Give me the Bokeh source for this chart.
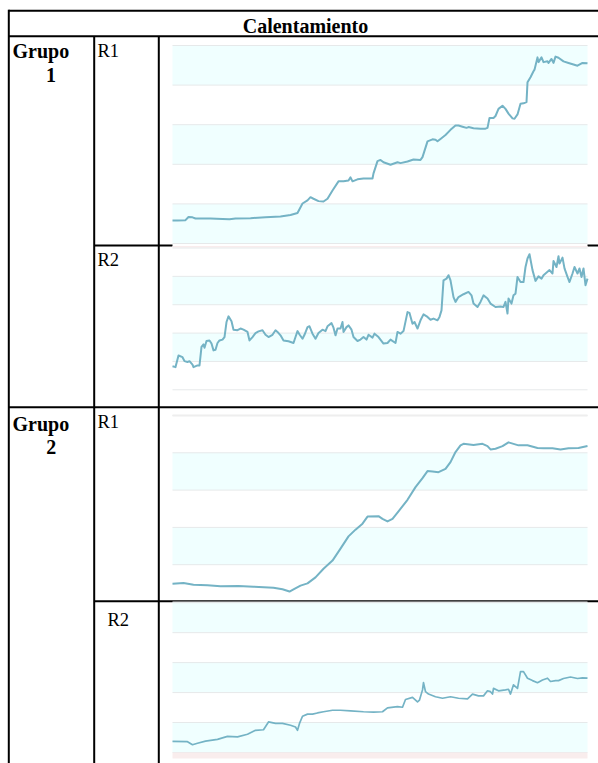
from bokeh.plotting import figure
from bokeh.models import Range1d
from bokeh.core.properties import value
from bokeh.embed import file_html
from bokeh.resources import INLINE

# ---------------- data ----------------
HEADER = "Calentamiento"
GROUP_WORDS = ["Grupo", "Grupo"]
GROUP_NUMS = ["1", "2"]
ROW_LABELS = ["R1", "R2", "R1", "R2"]
BAND_TICKS = [0, 10, 20, 30, 40, 50]
T_MAX = 415

g1r1_t = [0, 5, 13, 16, 20, 23, 38, 50, 57, 63, 78, 93, 108, 118, 125, 130, 135, 138, 141, 146,
          151, 155, 160, 166, 171, 176, 178, 180, 185, 191, 200, 201, 205, 208, 211, 218, 225, 228, 235, 241,
          248, 250, 255, 260, 263, 265, 268, 273, 278, 283, 286, 290, 294, 296, 301, 308, 313, 315, 317, 321,
          323, 326, 330, 333, 336, 340, 342, 345, 348, 351, 354, 355, 358, 361, 362, 365, 366, 369, 371, 375,
          376, 379, 381, 383, 386, 391, 396, 401, 405, 410, 415]
g1r1_v = [5.8, 5.8, 5.9, 6.7, 6.6, 6.3, 6.3, 6.2, 6.1, 6.3, 6.4, 6.6, 6.8, 7.2, 7.7, 10.1, 10.9, 11.7, 11.3, 10.7,
          10.6, 11.3, 13.4, 15.7, 15.7, 15.9, 16.7, 15.7, 16.2, 16.4, 16.4, 17.7, 20.8, 21.1, 20.5, 19.9, 20.5, 20.3, 20.7, 21.2,
          21.1, 21.8, 25.8, 26.3, 26.2, 25.8, 26.4, 27.4, 28.7, 29.8, 29.8, 29.5, 29.2, 29.4, 29.1, 29.0, 29.0, 29.2, 31.7, 31.7,
          32.2, 34.0, 34.8, 34.0, 32.8, 31.6, 31.5, 32.6, 35.3, 35.4, 35.7, 40.7, 42.0, 43.5, 43.9, 47.0, 45.8, 47.0, 45.8, 46.0,
          45.6, 46.6, 45.6, 47.2, 46.9, 46.0, 45.6, 45.2, 44.9, 45.6, 45.5]

g1r2_t = [0, 3, 6, 10, 12, 15, 17, 20, 21, 25, 27, 29, 31, 32, 34, 37, 39, 41, 43, 45,
          47, 50, 52, 54, 56, 59, 61, 65, 68, 71, 75, 77, 80, 83, 86, 90, 93, 96, 100, 103,
          105, 108, 111, 116, 121, 123, 125, 127, 130, 132, 135, 137, 140, 143, 146, 150, 153, 155, 159, 161,
          163, 165, 168, 170, 171, 174, 176, 179, 181, 185, 188, 191, 194, 196, 200, 202, 206, 211, 215, 218,
          223, 225, 228, 231, 235, 237, 240, 242, 245, 248, 251, 255, 258, 261, 265, 267, 269, 271, 274, 276,
          278, 281, 283, 286, 291, 296, 299, 301, 305, 308, 311, 315, 318, 323, 328, 331, 333, 335, 336, 339,
          341, 343, 345, 348, 351, 353, 355, 357, 360, 363, 366, 369, 371, 375, 377, 380, 381, 384, 386, 387,
          390, 392, 395, 397, 400, 402, 405, 407, 409, 411, 413, 415]
g1r2_v = [8.3, 8.0, 12.1, 11.5, 10.1, 9.8, 10.1, 8.9, 8.0, 8.6, 8.6, 15.1, 16.0, 14.8, 17.2, 17.4, 16.3, 13.9, 14.1, 16.5,
          17.4, 17.7, 18.6, 23.9, 25.9, 24.2, 21.2, 21.0, 21.6, 21.2, 20.4, 17.4, 18.6, 20.0, 20.6, 21.0, 19.4, 18.6, 19.4, 21.0,
          20.4, 19.2, 17.4, 17.1, 16.5, 18.6, 20.7, 19.5, 18.0, 19.4, 22.1, 22.4, 19.8, 18.0, 20.0, 21.2, 20.7, 22.4, 23.5, 21.9,
          19.2, 21.6, 21.6, 23.9, 20.4, 22.1, 22.7, 21.2, 18.6, 17.2, 17.7, 18.6, 17.7, 19.4, 18.4, 19.8, 18.6, 16.3, 16.5, 17.7,
          16.5, 20.4, 19.8, 20.7, 27.4, 27.1, 23.3, 23.9, 21.6, 24.5, 26.6, 25.7, 24.7, 25.1, 24.5, 25.7, 28.0, 38.6, 39.2, 40.4,
          38.6, 32.7, 31.0, 32.7, 33.7, 34.5, 33.3, 30.4, 29.2, 31.0, 33.3, 32.2, 30.4, 29.2, 29.4, 29.2, 31.0, 26.9, 32.2, 30.4,
          33.3, 33.9, 39.8, 38.0, 38.0, 43.3, 46.3, 47.8, 42.2, 38.4, 40.0, 39.2, 40.4, 41.6, 42.2, 41.0, 45.4, 43.3, 47.1, 44.5,
          46.6, 42.8, 39.8, 38.0, 41.0, 43.3, 41.0, 42.8, 39.8, 42.8, 36.9, 39.2]

g2r1_t = [0, 11, 21, 35, 48, 66, 81, 101, 110, 117, 121, 128, 135, 143, 151, 160, 168, 176, 183, 190,
          195, 206, 210, 215, 220, 226, 235, 243, 250, 255, 260, 266, 273, 278, 283, 288, 291, 301, 310, 315,
          318, 323, 330, 336, 341, 346, 355, 365, 371, 380, 388, 396, 406, 415]
g2r1_v = [4.9, 5.1, 4.6, 4.5, 4.2, 4.3, 4.1, 3.8, 3.4, 2.8, 3.4, 4.4, 5.0, 6.6, 8.9, 11.1, 14.3, 17.6, 19.4, 21.0,
          22.9, 23.0, 22.3, 21.6, 22.3, 24.3, 27.4, 30.8, 33.2, 35.1, 35.0, 34.8, 35.7, 37.5, 40.2, 42.0, 42.4, 42.1, 42.4, 41.8,
          40.9, 41.1, 41.8, 42.8, 42.4, 42.0, 42.0, 41.3, 41.2, 41.2, 40.9, 41.2, 41.3, 41.8]

g2r2_t = [0, 15, 20, 25, 33, 45, 55, 65, 75, 83, 91, 96, 103, 110, 118, 123, 125, 127, 130, 135,
          140, 145, 151, 160, 168, 178, 191, 201, 210, 215, 225, 230, 233, 240, 245, 247, 250, 251, 253, 256,
          263, 270, 278, 286, 295, 300, 306, 311, 315, 318, 320, 321, 326, 333, 336, 338, 341, 345, 348, 351,
          355, 360, 365, 370, 375, 378, 383, 386, 391, 398, 405, 410, 415]
g2r2_v = [3.7, 3.6, 2.6, 3.1, 3.8, 4.4, 5.4, 5.2, 6.1, 7.4, 7.6, 10.2, 9.7, 9.7, 9.1, 8.5, 7.4, 9.7, 12.1, 12.8,
          12.8, 13.2, 13.6, 14.1, 14.1, 13.9, 13.6, 13.5, 13.6, 14.9, 15.3, 15.1, 17.7, 18.4, 16.9, 17.5, 20.9, 23.3, 20.3, 19.5,
          18.6, 18.1, 18.6, 18.1, 17.9, 19.5, 18.9, 18.9, 20.6, 20.3, 19.5, 21.4, 20.6, 20.9, 21.1, 19.5, 22.6, 21.4, 27.0, 27.0,
          24.8, 24.0, 23.3, 24.2, 24.8, 23.7, 24.0, 24.0, 24.7, 25.2, 24.7, 24.9, 24.8]

# ---------------- styles ----------------
LINE_COLOR = "#74b3c5"
BAND_COLOR = "#f0ffff"
GRID_COLOR = "#e6e9ea"
PINK = "#f9eded"
FONT = value("Liberation Serif")

W, H = 598, 763
p = figure(width=W, height=H, x_range=Range1d(0, W), y_range=Range1d(H, 0),
           x_axis_location=None, y_axis_location=None, output_backend="svg",
           toolbar_location=None, min_border=0)
p.grid.visible = False
p.outline_line_color = None
p.background_fill_color = "white"
p.border_fill_color = "white"

# ---------------- table borders ----------------
RIGHT = 610
p.segment(x0=[8, 8, 93.7, 8, 93.7], x1=[RIGHT] * 5,
          y0=[10.3, 35.7, 245.0, 406.7, 600.7], y1=[10.3, 35.7, 245.0, 406.7, 600.7],
          line_color="black", line_width=2)
p.segment(x0=[8.3, 93.7, 158.3], x1=[8.3, 93.7, 158.3],
          y0=[9.3, 35.7, 35.7], y1=[780, 780, 780],
          line_color="black", line_width=2)

CX0, CX1 = 172, 587


def chart(y_bottom, y_top, top_cyan):
    sub = p.subplot(x_source=Range1d(0, T_MAX), y_source=Range1d(0, 50),
                    x_target=Range1d(CX0, CX1), y_target=Range1d(y_bottom, y_top))
    lows = BAND_TICKS[:-1]
    parity = 0 if top_cyan else 1
    cy = [lo for i, lo in enumerate(lows) if i % 2 == parity]
    sub.quad(left=0, right=T_MAX, bottom=cy, top=[c + 10 for c in cy],
             fill_color=BAND_COLOR, line_color=None)
    sub.segment(x0=0, x1=T_MAX, y0=BAND_TICKS, y1=BAND_TICKS, line_color=GRID_COLOR, line_width=1)
    return sub


# Grupo 1 R1 (chart covers the row border under it)
p.quad(left=CX0, right=CX1, bottom=247.6, top=243.4, fill_color="white", line_color=None)
s = chart(243, 45, True)
s.segment(x0=0, x1=T_MAX, y0=-0.8, y1=-0.8, line_color=PINK, line_width=1.5)
s.line(g1r1_t, g1r1_v, line_color=LINE_COLOR, line_width=2, line_join="round")

# Grupo 1 R2
s = chart(389.3, 247.5, False)
s.line(g1r2_t, g1r2_v, line_color=LINE_COLOR, line_width=2, line_join="round")

# Grupo 2 R1
s = chart(601.5, 415, False)
s.segment(x0=0, x1=T_MAX, y0=50, y1=50, line_color="#eeeeee", line_width=2)
s.line(g2r1_t, g2r1_v, line_color=LINE_COLOR, line_width=2, line_join="round")

# Grupo 2 R2
s = chart(752, 602.2, True)
s.quad(left=0, right=T_MAX, bottom=-2, top=0, fill_color=PINK, line_color=None)
s.line(g2r2_t, g2r2_v, line_color=LINE_COLOR, line_width=1.7, line_join="round")

# ---------------- texts ----------------
DY = -6
p.text(x=[305], y=[31 + DY], text=[HEADER], text_font=FONT, text_font_style="bold",
       text_font_size="20px", text_align="center", text_baseline="alphabetic", text_color="black")
p.text(x=[12, 12], y=[56.5 + DY, 429.3 + DY], text=GROUP_WORDS, text_font=FONT, text_font_style="bold",
       text_font_size="20px", text_align="left", text_baseline="alphabetic", text_color="black")
p.text(x=[50.5, 50.7], y=[80.0 + DY, 452.0 + DY], text=GROUP_NUMS, text_font=FONT, text_font_style="bold",
       text_font_size="20px", text_align="center", text_baseline="alphabetic", text_color="black")
p.text(x=[97, 97, 97, 107], y=[56 + DY, 265 + DY, 427 + DY, 625 + DY], text=ROW_LABELS, text_font=FONT,
       text_font_size="18.5px", text_align="left", text_baseline="alphabetic", text_color="black")

open("out.html", "w").write(file_html(p, INLINE))
